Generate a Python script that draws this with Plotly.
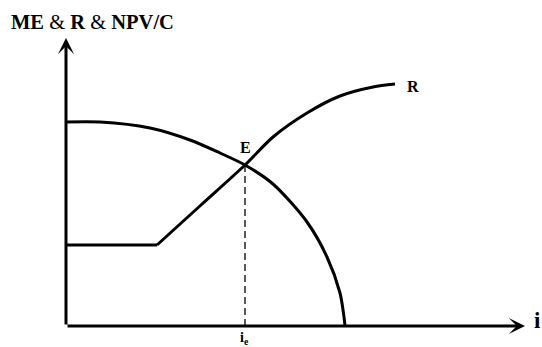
import plotly.graph_objects as go

# schematic: NPV/C falls with i, R rises, they cross at E (i_e)
npv_i = [0, 34, 84, 124, 154, 179, 207, 241, 261, 274, 278, 279]
npv_val = [204, 204, 198, 186, 173, 161, 142, 104, 69, 33, 9, 0]

r_i = [0, 91, 135, 179, 207, 241, 274, 307, 329]
r_val = [81, 81, 121, 161, 189, 213, 230, 239, 242]

e_i, e_val = 179, 161

serif = "Liberation Serif"
x_max, y_max = 459, 288

fig = go.Figure()
fig.add_trace(go.Scatter(x=npv_i, y=npv_val, mode="lines",
                         line=dict(color="black", width=3, shape="spline", smoothing=0.8)))
fig.add_trace(go.Scatter(x=r_i[:2], y=r_val[:2], mode="lines",
                         line=dict(color="black", width=3)))
fig.add_trace(go.Scatter(x=r_i[1:], y=r_val[1:], mode="lines",
                         line=dict(color="black", width=3, shape="spline", smoothing=0.8)))
fig.add_trace(go.Scatter(x=[e_i, e_i], y=[0, e_val], mode="lines",
                         line=dict(color="black", width=1.3, dash="7px,4px")))

# axes with arrow heads
for tip in [(x_max, 0), (0, y_max)]:
    fig.add_annotation(x=tip[0], y=tip[1], ax=0, ay=0, xref="x", yref="y",
                       axref="x", ayref="y", text="", showarrow=True,
                       arrowhead=3, arrowsize=0.9, arrowwidth=3, arrowcolor="black",
                       standoff=0)

fig.add_annotation(x=e_i, y=e_val + 7, text="<b>E</b>", showarrow=False,
                   yanchor="bottom", font=dict(family=serif, size=16, color="black"))
fig.add_annotation(x=339, y=240, text="<b>R</b>", showarrow=False,
                   xanchor="left", font=dict(family=serif, size=16, color="black"))
fig.add_annotation(x=(e_i - 1) / x_max, y=-2 / y_max, xref="paper", yref="paper",
                   text="<b>i<sub>e</sub></b>", showarrow=False, yanchor="top",
                   font=dict(family=serif, size=14, color="black"))
fig.add_annotation(x=466 / x_max, y=-9 / y_max, xref="paper", yref="paper",
                   text="<b>i</b>", showarrow=False, xanchor="left",
                   font=dict(family=serif, size=23, color="black"))
fig.add_annotation(x=-57 / x_max, y=304 / y_max, xref="paper", yref="paper",
                   text="<b>ME</b> & <b>R</b> & <b>NPV/C</b>",
                   showarrow=False, xanchor="left", yanchor="middle",
                   font=dict(family=serif, size=20.5, color="black"))

fig.update_xaxes(range=[0, x_max], visible=False)
fig.update_yaxes(range=[0, y_max], visible=False)
fig.update_layout(width=542, height=347, showlegend=False,
                  margin=dict(l=66, r=17, t=38, b=21),
                  plot_bgcolor="white", paper_bgcolor="white")

fig.write_html("out.html", config={"displayModeBar": False},
               post_script="document.body.style.margin='0';")
